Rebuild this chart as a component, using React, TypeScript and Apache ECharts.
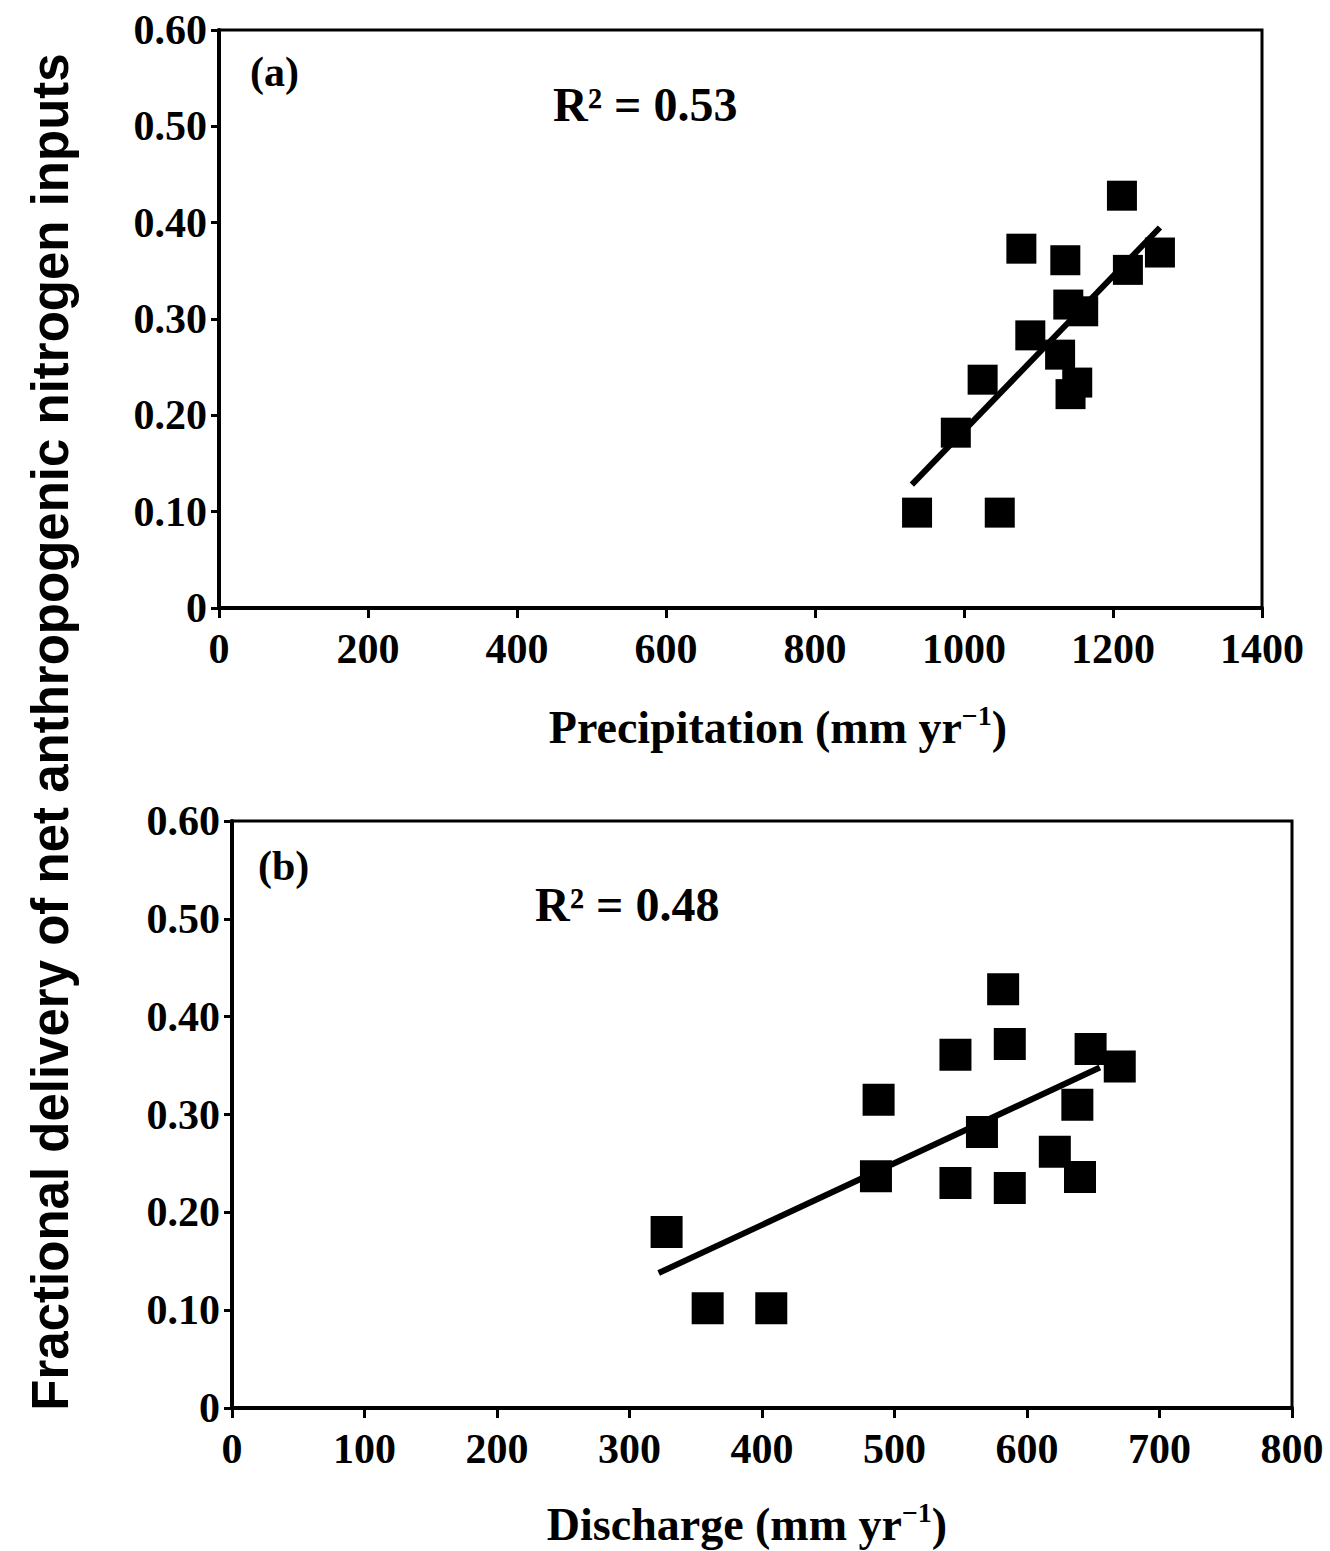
import React, { useEffect, useRef } from "react";
import * as echarts from "echarts";

// Panel (a): precipitation vs fractional delivery
const precipitation = [937, 989, 1025, 1048, 1077, 1089, 1129, 1136, 1140, 1143, 1152, 1160, 1212, 1220, 1263];
const fractionA = [0.099, 0.182, 0.237, 0.099, 0.373, 0.283, 0.263, 0.361, 0.315, 0.222, 0.234, 0.308, 0.428, 0.351, 0.369];
const trendA_x = [930, 1263];
const trendA_y = [0.128, 0.395];

// Panel (b): discharge vs fractional delivery
const discharge = [328, 359, 407, 486, 488, 546, 546, 566, 582, 587, 587, 621, 638, 640, 648, 670];
const fractionB = [0.180, 0.102, 0.102, 0.237, 0.315, 0.361, 0.230, 0.282, 0.428, 0.372, 0.225, 0.262, 0.310, 0.236, 0.367, 0.349];
const trendB_x = [322, 655];
const trendB_y = [0.138, 0.348];

const xTicksA = { min: 0, max: 1400, interval: 200 };
const xTicksB = { min: 0, max: 800, interval: 100 };
const yTicks = { min: 0, max: 0.6, interval: 0.1 };

const yLabel = "Fractional delivery of net anthropogenic nitrogen inputs";
const xLabelA = "Precipitation";
const xLabelB = "Discharge";
const r2A = "R² = 0.53";
const r2B = "R² = 0.48";

const SERIF = "Liberation Serif, Times New Roman, serif";
const SANS = "Liberation Sans, Arial, sans-serif";

function App() {
  const ref = useRef<HTMLDivElement>(null);
  useEffect(() => {
    if (!ref.current) return;
    const chart = echarts.init(ref.current, null, { renderer: "svg" });
    const axisLabelStyle = {
      color: "#000",
      fontFamily: SERIF,
      fontWeight: "bold" as const,
      fontSize: 42,
    };
    const makeX = (gridIndex: number, t: any) => ({
      type: "value",
      gridIndex,
      min: t.min,
      max: t.max,
      interval: t.interval,
      splitLine: { show: false },
      axisLine: { show: true, onZero: false, lineStyle: { color: "#000", width: 4 } },
      axisTick: { show: true, inside: false, length: 10, lineStyle: { color: "#000", width: 3 } },
      axisLabel: { ...axisLabelStyle, margin: 20, formatter: (v: number) => String(v) },
    });
    const makeY = (gridIndex: number) => ({
      type: "value",
      gridIndex,
      min: yTicks.min,
      max: yTicks.max,
      interval: yTicks.interval,
      splitLine: { show: false },
      axisLine: { show: true, onZero: false, lineStyle: { color: "#000", width: 4 } },
      axisTick: { show: true, inside: false, length: 8, lineStyle: { color: "#000", width: 3 } },
      axisLabel: {
        ...axisLabelStyle,
        margin: 12,
        formatter: (v: number) => (v === 0 ? "0" : v.toFixed(2)),
      },
    });
    const titleRich = {
      b: { fontFamily: SERIF, fontWeight: "bold", fontSize: 46, fill: "#000" },
      sup: { fontFamily: SERIF, fontWeight: "bold", fontSize: 28, fill: "#000", verticalAlign: "top", padding: [0, 0, 24, 0] },
    };
    const option: any = {
      animation: false,
      backgroundColor: "#fff",
      grid: [
        { left: 219, top: 30, width: 1043, height: 578, show: true, borderColor: "#000", borderWidth: 3 },
        { left: 232, top: 821, width: 1060, height: 587, show: true, borderColor: "#000", borderWidth: 3 },
      ],
      xAxis: [makeX(0, xTicksA), makeX(1, xTicksB)],
      yAxis: [makeY(0), makeY(1)],
      series: [
        {
          type: "scatter",
          xAxisIndex: 0,
          yAxisIndex: 0,
          symbol: "rect",
          symbolSize: 30,
          itemStyle: { color: "#000", opacity: 1 },
          data: precipitation.map((x, i) => [x, fractionA[i]]),
        },
        {
          type: "line",
          xAxisIndex: 0,
          yAxisIndex: 0,
          showSymbol: false,
          symbol: "none",
          lineStyle: { color: "#000", width: 6 },
          data: trendA_x.map((x, i) => [x, trendA_y[i]]),
        },
        {
          type: "scatter",
          xAxisIndex: 1,
          yAxisIndex: 1,
          symbol: "rect",
          symbolSize: 32,
          itemStyle: { color: "#000", opacity: 1 },
          data: discharge.map((x, i) => [x, fractionB[i]]),
        },
        {
          type: "line",
          xAxisIndex: 1,
          yAxisIndex: 1,
          showSymbol: false,
          symbol: "none",
          lineStyle: { color: "#000", width: 6 },
          data: trendB_x.map((x, i) => [x, trendB_y[i]]),
        },
      ],
      graphic: [
        {
          type: "text",
          x: 50,
          y: 732,
          rotation: Math.PI / 2,
          style: {
            text: yLabel,
            fontFamily: SANS,
            fontWeight: "bold",
            fontSize: 51,
            fill: "#000",
            align: "center",
            verticalAlign: "middle",
          },
        },
        {
          type: "text",
          x: 250,
          y: 72,
          style: { text: "(a)", fontFamily: SERIF, fontWeight: "bold", fontSize: 42, fill: "#000", verticalAlign: "middle" },
        },
        {
          type: "text",
          x: 258,
          y: 866,
          style: { text: "(b)", fontFamily: SERIF, fontWeight: "bold", fontSize: 42, fill: "#000", verticalAlign: "middle" },
        },
        {
          type: "text",
          x: 553,
          y: 104,
          style: { text: r2A, fontFamily: SERIF, fontWeight: "bold", fontSize: 48, fill: "#000", verticalAlign: "middle" },
        },
        {
          type: "text",
          x: 535,
          y: 904,
          style: { text: r2B, fontFamily: SERIF, fontWeight: "bold", fontSize: 48, fill: "#000", verticalAlign: "middle" },
        },
        {
          type: "text",
          x: 778,
          y: 727,
          style: {
            text: `{b|${xLabelA} (mm yr}{sup|−1}{b|)}`,
            rich: titleRich,
            align: "center",
            verticalAlign: "middle",
          },
        },
        {
          type: "text",
          x: 747,
          y: 1524,
          style: {
            text: `{b|${xLabelB} (mm yr}{sup|−1}{b|)}`,
            rich: titleRich,
            align: "center",
            verticalAlign: "middle",
          },
        },
      ],
    };
    chart.setOption(option);
    return () => chart.dispose();
  }, []);
  return (
    <div
      ref={ref}
      style={{ position: "absolute", left: 0, top: 0, width: 1330, height: 1551 }}
    />
  );
}

export default App;
